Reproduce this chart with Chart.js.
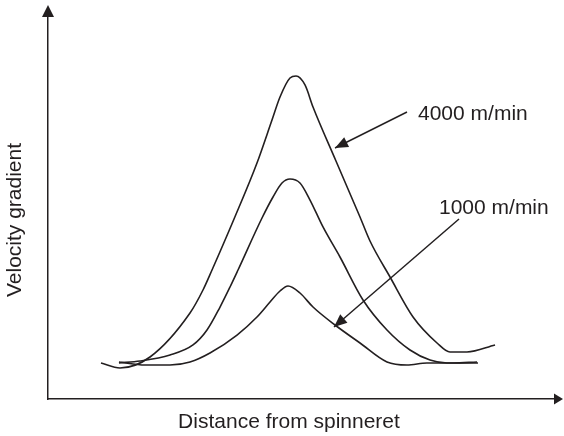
<!DOCTYPE html>
<html>
<head>
<meta charset="utf-8">
<script src="https://cdn.jsdelivr.net/npm/chart.js@4/dist/chart.umd.min.js"></script>
<style>
  html, body { margin: 0; padding: 0; background: #fff; }
  canvas { display: block; }
</style>
</head>
<body>
<canvas id="chart" width="564" height="436"></canvas>
<script>
// schematic curves (arbitrary units, 0-100 on both axes)
const fastX = [10.45, 14.20, 20.12, 28.01, 30.57, 32.35, 36.69, 41.22, 44.18, 45.76, 47.73, 48.92, 50.69, 52.27, 56.80, 61.54, 63.51, 67.46, 72.00, 76.73, 79.29, 82.64, 88.17];
const fastY = [9.42, 8.12, 11.00, 22.51, 28.53, 33.77, 47.12, 61.78, 73.04, 79.06, 84.03, 84.55, 82.20, 76.44, 62.30, 47.64, 41.36, 31.94, 21.47, 14.66, 12.30, 12.30, 14.14];

const midX = [14.00, 18.15, 24.06, 28.60, 31.36, 33.93, 35.90, 37.48, 42.21, 44.38, 46.15, 47.73, 49.70, 51.68, 54.24, 57.59, 62.13, 66.86, 71.40, 75.35, 78.70, 84.81];
const midY = [9.42, 9.95, 11.52, 14.14, 18.06, 24.08, 29.32, 33.77, 47.38, 52.88, 56.54, 57.59, 56.54, 52.09, 45.03, 37.17, 25.92, 18.06, 12.83, 10.21, 9.42, 9.42];

const slowX = [14.00, 19.13, 24.06, 28.01, 31.95, 37.28, 41.22, 43.79, 45.76, 47.34, 49.70, 52.27, 56.61, 61.54, 66.86, 70.81, 74.75, 79.88, 84.62];
const slowY = [9.69, 8.90, 8.90, 9.69, 12.04, 16.75, 21.47, 25.39, 28.27, 29.58, 27.75, 24.08, 19.37, 14.66, 9.69, 8.90, 9.42, 9.42, 9.69];

const xTitle = 'Distance from spinneret';
const yTitle = 'Velocity gradient';

// callouts: text, text anchor, arrow start, arrow tip (data units)
const noteText = ['4000 m/min', '1000 m/min'];
const noteX = [72.98, 77.12];
const noteY = [73.04, 48.43];
const arrowFromX = [70.81, 81.07];
const arrowFromY = [75.13, 47.12];
const arrowToX = [56.61, 56.41];
const arrowToY = [65.71, 18.85];

const ink = '#231f20';
const font = '21px "Liberation Sans", Arial, sans-serif';

function toPoints(xs, ys) {
    return xs.map((x, i) => ({ x: x, y: ys[i] }));
}

function arrowHead(ctx, x1, y1, x2, y2, len, half) {
    const ang = Math.atan2(y2 - y1, x2 - x1);
    const bx = x2 - len * Math.cos(ang);
    const by = y2 - len * Math.sin(ang);
    ctx.beginPath();
    ctx.moveTo(x2, y2);
    ctx.lineTo(bx + half * Math.sin(ang), by - half * Math.cos(ang));
    ctx.lineTo(bx - half * Math.sin(ang), by + half * Math.cos(ang));
    ctx.closePath();
    ctx.fill();
}

const extras = {
    id: 'extras',
    afterDraw(chart) {
        const ctx = chart.ctx;
        const a = chart.chartArea;
        const sx = chart.scales.x;
        const sy = chart.scales.y;
        ctx.save();
        ctx.fillStyle = ink;
        ctx.strokeStyle = ink;

        // axis arrowheads
        arrowHead(ctx, a.left, a.bottom, a.left, a.top - 12, 12, 6);
        arrowHead(ctx, a.left, a.bottom, a.right + 8, a.bottom, 9, 5.5);

        // axis titles
        ctx.font = font;
        ctx.textAlign = 'center';
        ctx.textBaseline = 'alphabetic';
        ctx.fillText(xTitle, a.left + 241, a.bottom + 29);
        ctx.save();
        ctx.translate(21, a.top + 203);
        ctx.rotate(-Math.PI / 2);
        ctx.fillText(yTitle, 0, 0);
        ctx.restore();

        // callouts
        ctx.textAlign = 'left';
        ctx.lineWidth = 1.5;
        for (let i = 0; i < noteText.length; i++) {
            ctx.fillText(noteText[i], sx.getPixelForValue(noteX[i]), sy.getPixelForValue(noteY[i]));
            const x1 = sx.getPixelForValue(arrowFromX[i]);
            const y1 = sy.getPixelForValue(arrowFromY[i]);
            const x2 = sx.getPixelForValue(arrowToX[i]);
            const y2 = sy.getPixelForValue(arrowToY[i]);
            ctx.beginPath();
            ctx.moveTo(x1, y1);
            ctx.lineTo(x2, y2);
            ctx.stroke();
            arrowHead(ctx, x1, y1, x2, y2, 13, 5.5);
        }
        ctx.restore();
    }
};

const lineStyle = {
    showLine: true,
    borderColor: ink,
    borderWidth: 1.6,
    pointRadius: 0,
    fill: false,
    cubicInterpolationMode: 'monotone'
};

new Chart(document.getElementById('chart').getContext('2d'), {
    type: 'scatter',
    data: {
        datasets: [
            Object.assign({ label: '4000 m/min', data: toPoints(fastX, fastY) }, lineStyle),
            Object.assign({ label: 'middle', data: toPoints(midX, midY) }, lineStyle),
            Object.assign({ label: '1000 m/min', data: toPoints(slowX, slowY) }, lineStyle)
        ]
    },
    options: {
        responsive: false,
        animation: false,
        devicePixelRatio: 1,
        layout: { padding: { left: 48, right: 9, top: 17, bottom: 37 } },
        plugins: { legend: { display: false }, tooltip: { enabled: false } },
        scales: {
            x: {
                type: 'linear', min: 0, max: 100,
                grid: { display: false, drawTicks: false },
                ticks: { display: false },
                border: { display: true, color: ink, width: 1.5 }
            },
            y: {
                type: 'linear', min: 0, max: 100,
                grid: { display: false, drawTicks: false },
                ticks: { display: false },
                border: { display: true, color: ink, width: 1.5 }
            }
        }
    },
    plugins: [extras]
});
</script>
</body>
</html>
